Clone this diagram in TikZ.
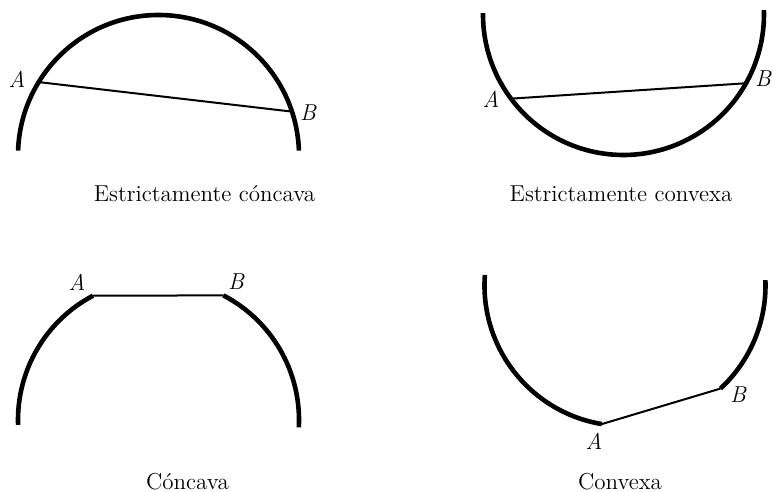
\documentclass[tikz,border=0pt]{standalone}
\begin{document}
\begin{tikzpicture}[x=0.5pt,y=0.5pt,
  curve/.style={line width=2.3pt},
  chord/.style={line width=1pt},
  lbl/.style={font=\fontsize{11.5}{13}\selectfont\itshape, inner sep=0pt},
  capt/.style={font=\fontsize{11.5}{13}\selectfont, inner sep=0pt}]
\useasboundingbox (0,0) rectangle (773,-492);
% --- Estrictamente concava
\coordinate (C1) at (158.5,-155.5);
\path (C1) ++(148.5:140.5) coordinate (A1);
\path (C1) ++(18.2:140.5) coordinate (B1);
\draw[curve] (C1) ++(178:140.5) arc[start angle=178,end angle=2,radius=140.5];
\draw[chord] (A1) -- (B1);
\node[lbl] (la1) at (17,-79) {A};
\node[lbl] (lb1) at (308,-113) {B};
\node[capt] (t1) at (204.5,-194) {Estrictamente cóncava};
% --- Estrictamente convexa
\coordinate (C2) at (623.5,-14.5);
\path (C2) ++(216.8:140.5) coordinate (A2);
\path (C2) ++(330.7:140.5) coordinate (B2);
\draw[curve] (C2) ++(179.4:140.5) arc[start angle=179.4,end angle=361.8,radius=140.5];
\draw[chord] (A2) -- (B2);
\node[lbl] (la2) at (491,-99) {A};
\node[lbl] (lb2) at (763,-79) {B};
\node[capt] (t2) at (621,-194) {Estrictamente convexa};
% --- Concava
\coordinate (C3) at (158.5,-420);
\path (C3) ++(117.8:140.5) coordinate (A3);
\path (C3) ++(62.5:140.5) coordinate (B3);
\draw[curve] (C3) ++(182:140.5) arc[start angle=182,end angle=117.8,radius=140.5];
\draw[curve] (C3) ++(62.5:140.5) arc[start angle=62.5,end angle=-3,radius=140.5];
\draw[chord] (A3) -- (B3);
\node[lbl] (la3) at (77,-282) {A};
\node[lbl] (lb3) at (236,-282) {B};
\node[capt] (t3) at (187.5,-482) {Cóncava};
% --- Convexa
\coordinate (C4) at (625,-285.5);
\path (C4) ++(260.5:140.5) coordinate (A4);
\path (C4) ++(312.8:140.5) coordinate (B4);
\draw[curve] (C4) ++(175.7:140.5) arc[start angle=175.7,end angle=260.5,radius=140.5];
\draw[curve] (C4) ++(312.8:140.5) arc[start angle=312.8,end angle=362.2,radius=140.5];
\draw[chord] (A4) -- (B4);
\node[lbl] (la4) at (594,-441.5) {A};
\node[lbl] (lb4) at (738,-395) {B};
\node[capt] (t4) at (620,-482) {Convexa};
\end{tikzpicture}
\end{document}
